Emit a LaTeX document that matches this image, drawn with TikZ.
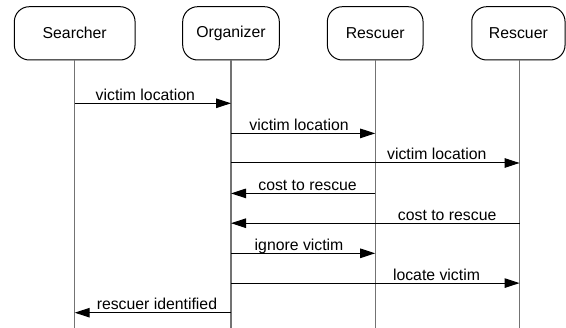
\documentclass[tikz,border=0pt]{standalone}
\usepackage{fontspec}
\setmainfont{Liberation Sans}
\usetikzlibrary{arrows.meta}
\definecolor{lifegray}{RGB}{115,115,115}
\tikzset{
  actor/.style={draw=black, line width=1pt, rounded corners=15pt, minimum height=53.3pt, inner sep=0pt, font=\fontsize{15.8}{19}\selectfont},
  lifeline/.style={draw=lifegray, line width=1.3pt},
  msg/.style={draw=black, line width=1pt, -{Triangle[length=15pt,width=9.5pt]}},
  lbl/.style={anchor=base, inner sep=0pt, yshift=3pt, font=\fontsize{15.8}{19}\selectfont},
}
\begin{document}
\begin{tikzpicture}[x=1pt,y=-1pt]
\useasboundingbox (0,0) rectangle (566,328);
\node[actor, minimum width=120.7pt] (S) at (74.7,33.35) {Searcher};
\node[actor, minimum width=96.6pt] (O) at (231,33.35) {Organizer};
\node[actor, minimum width=95.7pt] (R1) at (375.2,33.35) {Rescuer};
\node[actor, minimum width=93.3pt] (R2) at (518.4,33.35) {Rescuer};
\coordinate (Send) at (74.7,328.5);
\coordinate (Oend) at (231,328.5);
\coordinate (R1end) at (375.2,328.5);
\coordinate (R2end) at (519.6,328.5);
\draw[lifeline] (S.south) -- (Send);
\draw[lifeline] (O.south) -- (Oend);
\draw[lifeline] (R1.south) -- (R1end);
\draw[lifeline] (R2end |- R2.south) -- (R2end);
\coordinate (y1) at (0,103.3);
\coordinate (y2) at (0,133.4);
\coordinate (y3) at (0,163.0);
\coordinate (y4) at (0,193.4);
\coordinate (y5) at (0,223.2);
\coordinate (y6) at (0,253.3);
\coordinate (y7) at (0,283.1);
\coordinate (y8) at (0,312.7);
\draw[msg] (Send |- y1) -- node[lbl, pos=0.452] {victim location} (Oend |- y1);
\draw[msg] (Oend |- y2) -- node[lbl, pos=0.472] {victim location} (R1end |- y2);
\draw[msg] (Oend |- y3) -- node[lbl, pos=0.713] {victim location} (R2end |- y3);
\draw[msg] (R1end |- y4) -- node[lbl, pos=0.469] {cost to rescue} (Oend |- y4);
\draw[msg] (R2end |- y5) -- node[lbl, pos=0.251] {cost to rescue} (Oend |- y5);
\draw[msg] (Oend |- y6) -- node[lbl, pos=0.472] {ignore victim} (R1end |- y6);
\draw[msg] (Oend |- y7) -- node[lbl, pos=0.712] {locate victim} (R2end |- y7);
\draw[msg] (Oend |- y8) -- node[lbl, pos=0.474] {rescuer identified} (Send |- y8);
\end{tikzpicture}
\end{document}
